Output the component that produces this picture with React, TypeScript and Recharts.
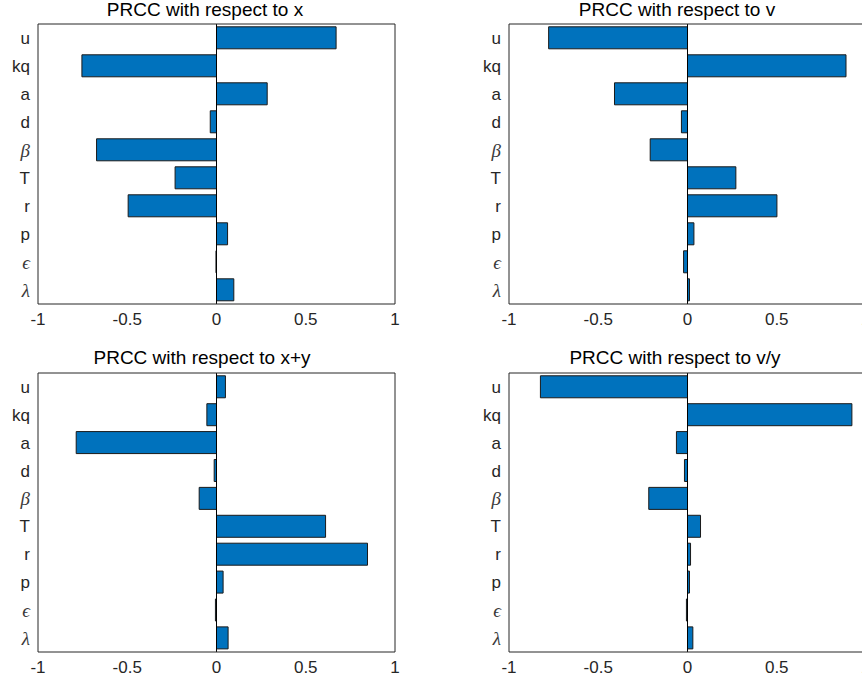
import React from "react"
import { BarChart, Bar, XAxis, YAxis, ReferenceLine } from "recharts"

const params = ["u", "kq", "a", "d", "β", "T", "r", "p", "ϵ", "λ"]
const greek = ["β", "ϵ", "λ"]

const prccX = [0.67, -0.754, 0.284, -0.035, -0.672, -0.232, -0.495, 0.062, -0.003, 0.097]
const prccV = [-0.778, 0.888, -0.409, -0.034, -0.209, 0.271, 0.501, 0.036, -0.022, 0.011]
const prccXY = [0.05, -0.054, -0.786, -0.013, -0.097, 0.611, 0.846, 0.037, -0.006, 0.065]
const prccVY = [-0.824, 0.921, -0.062, -0.017, -0.217, 0.073, 0.017, 0.011, -0.006, 0.03]

const xTicks = [-1, -0.5, 0, 0.5, 1]

const panels = [
  { title: "PRCC with respect to x", values: prccX, left: 0, top: 0, titleX: 205, titleY: 16 },
  { title: "PRCC with respect to v", values: prccV, left: 430, top: 0, titleX: 677, titleY: 16 },
  { title: "PRCC with respect to x+y", values: prccXY, left: 0, top: 340, titleX: 202, titleY: 364 },
  { title: "PRCC with respect to v/y", values: prccVY, left: 430, top: 340, titleX: 675, titleY: 364 },
]

const SANS = "'Liberation Sans', Arial, Helvetica, sans-serif"
const SERIF = "'Liberation Serif', 'DejaVu Serif', serif"
const AXIS = "#262626"
const BAR = "#0072BD"

function YTick(props: any) {
  const { x, y, payload } = props
  const isGreek = greek.includes(payload.value)
  return (
    <text
      x={x}
      y={y}
      dy="0.35em"
      textAnchor="end"
      fill={isGreek ? "#3a3a3a" : AXIS}
      fontSize={isGreek ? 19 : 17}
      fontFamily={isGreek ? SERIF : SANS}
      fontStyle={isGreek ? "italic" : "normal"}
    >
      {payload.value}
    </text>
  )
}

function Panel({ values, right, top }: { values: number[]; right: boolean; top: boolean }) {
  const data = params.map((name, i) => ({ name, value: values[i] }))
  const yWidth = right ? 79 : 38
  const width = right ? 440 : 430
  const marginRight = width - yWidth - 357
  const marginTop = top ? 24 : 33
  const xHeight = top ? 36 : 28
  return (
    <BarChart
      width={width}
      height={340}
      data={data}
      layout="vertical"
      barCategoryGap="10%"
      margin={{ top: marginTop, right: marginRight, bottom: 0, left: 0 }}
    >
      <XAxis
        xAxisId="x"
        type="number"
        domain={[-1, 1]}
        ticks={xTicks}
        orientation="bottom"
        height={xHeight}
        tickLine={false}
        tickSize={0}
        tickMargin={9}
        axisLine={{ stroke: AXIS }}
        tick={{ fontSize: 17, fill: AXIS, fontFamily: SANS }}
      />
      <XAxis
        xAxisId="xm"
        type="number"
        domain={[-1, 1]}
        ticks={xTicks}
        orientation="bottom"
        mirror
        tick={false}
        axisLine={false}
        tickSize={5}
        tickLine={{ stroke: AXIS }}
      />
      <XAxis
        xAxisId="xt"
        type="number"
        domain={[-1, 1]}
        ticks={xTicks}
        orientation="top"
        mirror
        tick={false}
        axisLine={{ stroke: AXIS }}
        tickSize={5}
        tickLine={{ stroke: AXIS }}
      />
      <YAxis
        yAxisId="y"
        type="category"
        dataKey="name"
        width={yWidth}
        tickLine={false}
        tickSize={0}
        tickMargin={8}
        axisLine={{ stroke: AXIS }}
        tick={<YTick />}
        interval={0}
      />
      <YAxis
        yAxisId="ym"
        type="category"
        dataKey="name"
        mirror
        tick={false}
        axisLine={false}
        tickSize={5}
        tickLine={{ stroke: AXIS }}
        interval={0}
      />
      <YAxis
        yAxisId="yr"
        type="category"
        dataKey="name"
        orientation="right"
        mirror
        tick={false}
        axisLine={{ stroke: AXIS }}
        tickSize={5}
        tickLine={{ stroke: AXIS }}
        interval={0}
      />
      <Bar
        xAxisId="x"
        yAxisId="y"
        dataKey="value"
        fill={BAR}
        stroke="#1a1a1a"
        strokeWidth={1}
        isAnimationActive={false}
      />
      <ReferenceLine xAxisId="x" yAxisId="y" x={0} stroke="#000" strokeWidth={1} />
    </BarChart>
  )
}

export default function App() {
  return (
    <div
      style={{
        position: "absolute",
        left: 0,
        top: 0,
        width: 862,
        height: 680,
        overflow: "hidden",
        background: "#fff",
      }}
    >
      {panels.map((p) => (
        <div key={p.title} style={{ position: "absolute", left: p.left, top: p.top }}>
          <Panel values={p.values} right={p.left > 0} top={p.top === 0} />
        </div>
      ))}
      <svg width={862} height={680} style={{ position: "absolute", left: 0, top: 0, pointerEvents: "none" }}>
        {panels.map((p) => (
          <text
            key={p.title}
            x={p.titleX}
            y={p.titleY}
            textAnchor="middle"
            fontSize={19}
            fontFamily={SANS}
            fill="#000"
          >
            {p.title}
          </text>
        ))}
      </svg>
    </div>
  )
}
